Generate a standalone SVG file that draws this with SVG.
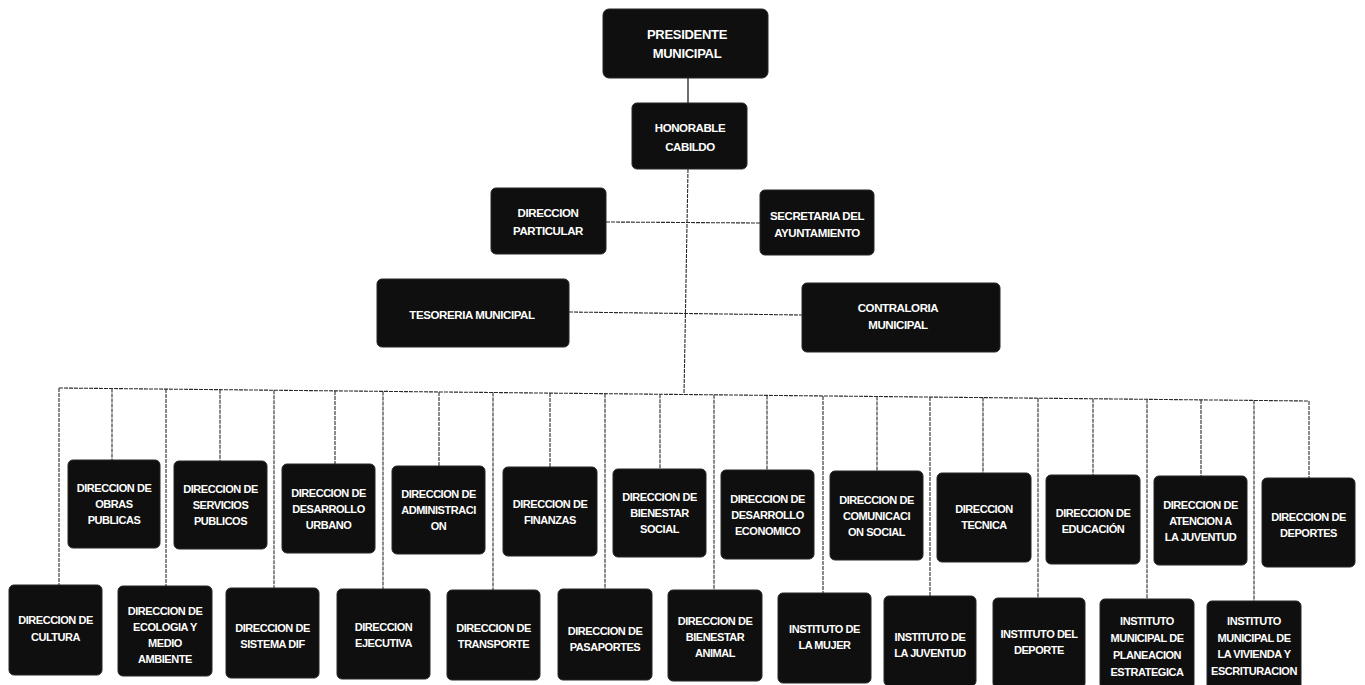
<svg xmlns="http://www.w3.org/2000/svg" width="1365" height="685" viewBox="0 0 1365 685">
<style>
.bx{fill:#0f0f0f;stroke:#262626;stroke-width:1}
.t{font-family:"Liberation Sans",Arial,sans-serif;font-weight:bold;fill:#ffffff;text-anchor:middle;dominant-baseline:central;font-size:11px;letter-spacing:-0.45px}
.tl{font-size:13px;letter-spacing:-0.3px}
.tm{font-size:11.5px;letter-spacing:-0.4px}
.c{stroke:#2a2a2a;stroke-width:1.1;fill:none;stroke-dasharray:4 1}
.cs{stroke:#1e1e1e;stroke-width:1.3;fill:none}
</style>
<rect width="1365" height="685" fill="#ffffff"/>
<g id="connectors">
<line class="cs" x1="688" y1="78" x2="688" y2="103"/>
<line class="c" x1="688" y1="169" x2="684" y2="394.5"/>
<line class="c" x1="606" y1="222" x2="760" y2="223"/>
<line class="c" x1="569" y1="312" x2="802" y2="315"/>
<line class="c" x1="59" y1="388" x2="1309" y2="401"/>
<line class="c" x1="59" y1="388" x2="59" y2="585"/>
<line class="c" x1="112" y1="388.6" x2="112" y2="460"/>
<line class="c" x1="166" y1="389.1" x2="166" y2="586"/>
<line class="c" x1="220" y1="389.7" x2="220" y2="461"/>
<line class="c" x1="274" y1="390.2" x2="274" y2="588"/>
<line class="c" x1="335" y1="390.9" x2="335" y2="464"/>
<line class="c" x1="383" y1="391.4" x2="383" y2="589"/>
<line class="c" x1="439" y1="392" x2="439" y2="466"/>
<line class="c" x1="493" y1="392.5" x2="493" y2="590"/>
<line class="c" x1="550" y1="393.1" x2="550" y2="467"/>
<line class="c" x1="605" y1="393.7" x2="605" y2="589"/>
<line class="c" x1="660" y1="394.3" x2="660" y2="469"/>
<line class="c" x1="714" y1="394.8" x2="714" y2="590"/>
<line class="c" x1="767" y1="395.4" x2="767" y2="470"/>
<line class="c" x1="823" y1="396" x2="823" y2="593"/>
<line class="c" x1="877" y1="396.5" x2="877" y2="471"/>
<line class="c" x1="930" y1="397.1" x2="930" y2="596"/>
<line class="c" x1="983" y1="397.6" x2="983" y2="473"/>
<line class="c" x1="1038" y1="398.2" x2="1038" y2="598"/>
<line class="c" x1="1093" y1="398.8" x2="1093" y2="475"/>
<line class="c" x1="1147" y1="399.3" x2="1147" y2="599"/>
<line class="c" x1="1201" y1="399.9" x2="1201" y2="476"/>
<line class="c" x1="1254" y1="400.4" x2="1254" y2="601"/>
<line class="c" x1="1309" y1="401" x2="1309" y2="478"/>
</g>

<g id="presidente"><rect class="bx" x="603" y="9" width="165" height="69" rx="6"/><text class="t tl" x="687" y="34">PRESIDENTE</text><text class="t tl" x="687" y="53">MUNICIPAL</text></g>
<g id="cabildo"><rect class="bx" x="632" y="103" width="115" height="66" rx="5"/><text class="t tm" x="690" y="128">HONORABLE</text><text class="t tm" x="690" y="147">CABILDO</text></g>
<g id="particular"><rect class="bx" x="491" y="188" width="115" height="66" rx="5"/><text class="t tm" x="548" y="213">DIRECCION</text><text class="t tm" x="548" y="231">PARTICULAR</text></g>
<g id="secretaria"><rect class="bx" x="760" y="190" width="114" height="65" rx="5"/><text class="t tm" x="817" y="216">SECRETARIA DEL</text><text class="t tm" x="817" y="233">AYUNTAMIENTO</text></g>
<g id="tesoreria"><rect class="bx" x="377" y="279" width="192" height="68" rx="5"/><text class="t tm" x="472" y="315">TESORERIA MUNICIPAL</text></g>
<g id="contraloria"><rect class="bx" x="802" y="283" width="198" height="69" rx="5"/><text class="t tm" x="898" y="308">CONTRALORIA</text><text class="t tm" x="898" y="325">MUNICIPAL</text></g>

<g id="obras"><rect class="bx" x="68" y="460" width="92" height="88" rx="5"/><text class="t" x="114" y="488">DIRECCION DE</text><text class="t" x="114" y="504">OBRAS</text><text class="t" x="114" y="520">PUBLICAS</text></g>
<g id="servicios"><rect class="bx" x="174" y="461" width="93" height="88" rx="5"/><text class="t" x="220.5" y="489">DIRECCION DE</text><text class="t" x="220.5" y="505">SERVICIOS</text><text class="t" x="220.5" y="521">PUBLICOS</text></g>
<g id="desarrollo-urbano"><rect class="bx" x="282" y="464" width="93" height="89" rx="5"/><text class="t" x="328.5" y="492.5">DIRECCION DE</text><text class="t" x="328.5" y="508.5">DESARROLLO</text><text class="t" x="328.5" y="524.5">URBANO</text></g>
<g id="administracion"><rect class="bx" x="392" y="466" width="93" height="88" rx="5"/><text class="t" x="438.5" y="494">DIRECCION DE</text><text class="t" x="438.5" y="510">ADMINISTRACI</text><text class="t" x="438.5" y="526">ON</text></g>
<g id="finanzas"><rect class="bx" x="503" y="467" width="94" height="89" rx="5"/><text class="t" x="550" y="504">DIRECCION DE</text><text class="t" x="550" y="520">FINANZAS</text></g>
<g id="bienestar-social"><rect class="bx" x="613" y="469" width="93" height="88" rx="5"/><text class="t" x="659.5" y="497">DIRECCION DE</text><text class="t" x="659.5" y="513">BIENESTAR</text><text class="t" x="659.5" y="529">SOCIAL</text></g>
<g id="desarrollo-economico"><rect class="bx" x="721" y="470" width="93" height="89" rx="5"/><text class="t" x="767.5" y="498.5">DIRECCION DE</text><text class="t" x="767.5" y="514.5">DESARROLLO</text><text class="t" x="767.5" y="530.5">ECONOMICO</text></g>
<g id="comunicacion"><rect class="bx" x="830" y="471" width="93" height="89" rx="5"/><text class="t" x="876.5" y="499.5">DIRECCION DE</text><text class="t" x="876.5" y="515.5">COMUNICACI</text><text class="t" x="876.5" y="531.5">ON SOCIAL</text></g>
<g id="tecnica"><rect class="bx" x="937" y="473" width="94" height="89" rx="5"/><text class="t" x="984" y="509">DIRECCION</text><text class="t" x="984" y="525">TECNICA</text></g>
<g id="educacion"><rect class="bx" x="1046" y="475" width="94" height="89" rx="5"/><text class="t" x="1093" y="513">DIRECCION DE</text><text class="t" x="1093" y="529">EDUCACIÓN</text></g>
<g id="atencion-juventud"><rect class="bx" x="1154" y="476" width="93" height="89" rx="5"/><text class="t" x="1200.5" y="505">DIRECCION DE</text><text class="t" x="1200.5" y="521">ATENCION A</text><text class="t" x="1200.5" y="537">LA JUVENTUD</text></g>
<g id="deportes"><rect class="bx" x="1262" y="478" width="93" height="89" rx="5"/><text class="t" x="1308.5" y="517">DIRECCION DE</text><text class="t" x="1308.5" y="533">DEPORTES</text></g>

<g id="cultura"><rect class="bx" x="9" y="585" width="93" height="90" rx="5"/><text class="t" x="55.5" y="620">DIRECCION DE</text><text class="t" x="55.5" y="637">CULTURA</text></g>
<g id="ecologia"><rect class="bx" x="118" y="586" width="94" height="90" rx="5"/><text class="t" x="165" y="611">DIRECCION DE</text><text class="t" x="165" y="627">ECOLOGIA Y</text><text class="t" x="165" y="643">MEDIO</text><text class="t" x="165" y="659">AMBIENTE</text></g>
<g id="sistema-dif"><rect class="bx" x="226" y="588" width="93" height="90" rx="5"/><text class="t" x="272.5" y="628">DIRECCION DE</text><text class="t" x="272.5" y="644">SISTEMA DIF</text></g>
<g id="ejecutiva"><rect class="bx" x="337" y="589" width="93" height="90" rx="5"/><text class="t" x="383.5" y="627">DIRECCION</text><text class="t" x="383.5" y="643">EJECUTIVA</text></g>
<g id="transporte"><rect class="bx" x="447" y="590" width="93" height="90" rx="5"/><text class="t" x="493.5" y="627.5">DIRECCION DE</text><text class="t" x="493.5" y="643.5">TRANSPORTE</text></g>
<g id="pasaportes"><rect class="bx" x="558" y="589" width="94" height="91" rx="5"/><text class="t" x="605" y="631">DIRECCION DE</text><text class="t" x="605" y="647">PASAPORTES</text></g>
<g id="bienestar-animal"><rect class="bx" x="668" y="590" width="94" height="91" rx="5"/><text class="t" x="715" y="621">DIRECCION DE</text><text class="t" x="715" y="637">BIENESTAR</text><text class="t" x="715" y="653">ANIMAL</text></g>
<g id="instituto-mujer"><rect class="bx" x="778" y="593" width="93" height="90" rx="5"/><text class="t" x="824.5" y="628.5">INSTITUTO DE</text><text class="t" x="824.5" y="644.5">LA MUJER</text></g>
<g id="instituto-juventud"><rect class="bx" x="884" y="596" width="92" height="90" rx="5"/><text class="t" x="930" y="636.5">INSTITUTO DE</text><text class="t" x="930" y="652.5">LA JUVENTUD</text></g>
<g id="instituto-deporte"><rect class="bx" x="993" y="598" width="92" height="90" rx="5"/><text class="t" x="1039" y="633.5">INSTITUTO DEL</text><text class="t" x="1039" y="649.5">DEPORTE</text></g>
<g id="instituto-planeacion"><rect class="bx" x="1100" y="599" width="94" height="90" rx="5"/><text class="t" x="1147" y="621">INSTITUTO</text><text class="t" x="1147" y="638">MUNICIPAL DE</text><text class="t" x="1147" y="655">PLANEACION</text><text class="t" x="1147" y="672">ESTRATEGICA</text></g>
<g id="instituto-vivienda"><rect class="bx" x="1207" y="601" width="94" height="90" rx="5"/><text class="t" x="1254" y="621">INSTITUTO</text><text class="t" x="1254" y="637.5">MUNICIPAL DE</text><text class="t" x="1254" y="654">LA VIVIENDA Y</text><text class="t" x="1254" y="670.5">ESCRITURACION</text></g>
</svg>
